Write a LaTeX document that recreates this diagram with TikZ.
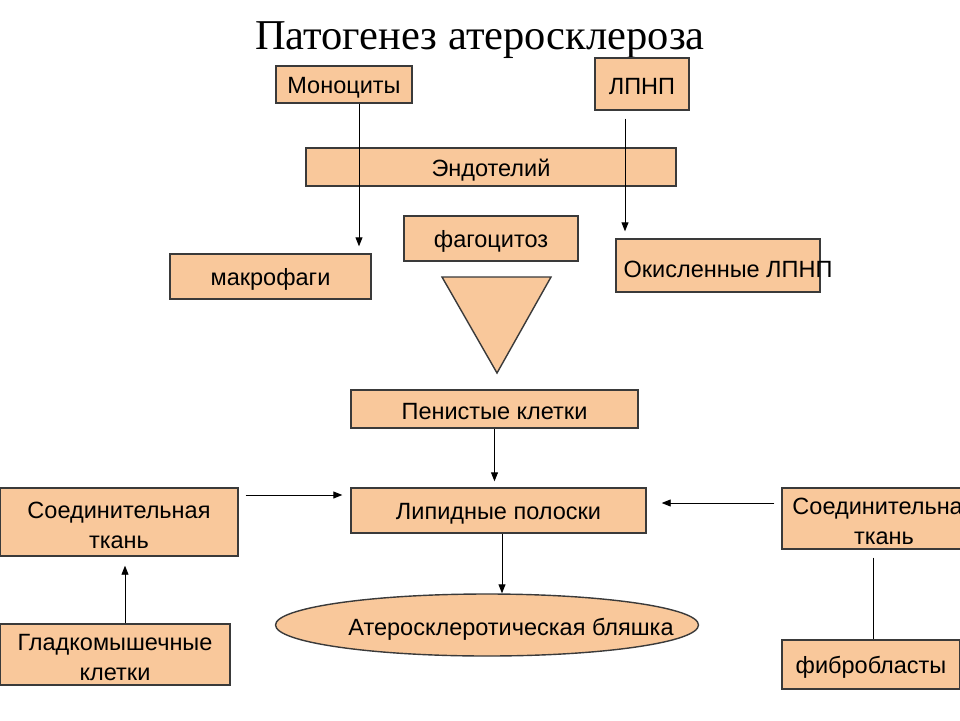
\documentclass[tikz,border=0pt]{standalone}
\usepackage{fontspec}
\setmainfont{Liberation Sans}
\newfontfamily\titlefont{Liberation Serif}
\usetikzlibrary{arrows.meta,shapes.geometric}
\definecolor{peach}{HTML}{F9C89B}
\definecolor{edgec}{HTML}{3A3A3A}
\begin{document}
\begin{tikzpicture}[x=1pt,y=-1pt,
  box/.style={draw=edgec,fill=peach,line width=1.4pt,inner sep=0pt},
  lbl/.style={inner sep=0pt,font=\fontsize{23.5}{30}\selectfont,align=center,yshift=-3pt},
  arr/.style={-{Triangle[length=9pt,width=7pt]},line width=0.9pt,black},
  conn/.style={line width=0.9pt,black}]
\clip (0,0) rectangle (960,720);
\fill[white] (0,0) rectangle (960,720);
\node[inner sep=0pt,font=\titlefont\fontsize{42.5}{46}\selectfont] (title) at (480,40) {Патогенез атеросклероза};
% boxes
\node[box,minimum width=136pt,minimum height=37pt,label={[lbl]center:Моноциты}] (mono) at (344,84.5) {};
\node[box,minimum width=94pt,minimum height=52pt,label={[lbl]center:ЛПНП}] (ldl) at (642,84) {};
\node[box,minimum width=370pt,minimum height=38pt,label={[lbl]center:Эндотелий}] (endo) at (491,167) {};
\node[box,minimum width=174pt,minimum height=45pt,label={[lbl]center:фагоцитоз}] (phago) at (491,238.5) {};
\node[box,minimum width=201pt,minimum height=45pt,label={[lbl]center:макрофаги}] (macro) at (270.5,276.5) {};
\node[box,minimum width=204pt,minimum height=53pt] (oxldl) at (718,265.5) {};
\node[lbl] (oxldlt) at (728,266) {Окисленные ЛПНП};
\draw[draw=edgec,fill=peach,line width=1.4pt] (442,277) -- (551,277) -- (497,373) -- cycle;
\node[box,minimum width=287pt,minimum height=38pt,label={[lbl]center:Пенистые клетки}] (foam) at (494.5,409) {};
\node[box,minimum width=295pt,minimum height=45pt,label={[lbl]center:Липидные полоски}] (lipid) at (498.5,510.5) {};
\node[box,minimum width=238pt,minimum height=68pt,label={[lbl]center:Соединительная\\ткань}] (ctL) at (119,522) {};
\node[box,minimum width=230pt,minimum height=61pt,label={[lbl]center:Гладкомышечные\\клетки}] (smc) at (115,654.5) {};
\node[box,ellipse,minimum width=423pt,minimum height=62pt] (plaque) at (487,625) {};
\node[lbl] (plaquet) at (511,626) {Атеросклеротическая бляшка};
\node[box,minimum width=204pt,minimum height=61pt,label={[lbl]center:Соединительная\\ткань}] (ctR) at (884,518.5) {};
\node[box,minimum width=178pt,minimum height=49pt,label={[lbl]center:фибробласты}] (fibro) at (871,664.5) {};
% connectors
\coordinate (m0) at ([xshift=15pt]mono.south);
\draw[arr,shorten >=7pt] (m0) -- (m0 |- macro.north);
\coordinate (l0) at ([xshift=-17pt]ldl.south);
\draw[arr,shorten <=8pt,shorten >=7pt] (l0) -- (l0 |- oxldl.north);
\draw[arr,shorten >=6pt] (foam.south) -- (foam.south |- lipid.north);
\coordinate (p0) at ([xshift=3.5pt]lipid.south);
\draw[arr] (p0) -- (p0 |- plaque.north);
\coordinate (c0) at ([yshift=27pt]ctL.east);
\draw[arr,shorten <=7pt,shorten >=8pt] (c0) -- (c0 -| lipid.west);
\coordinate (r0) at ([yshift=15.5pt]ctR.west);
\draw[arr,shorten <=7pt,shorten >=15pt] (r0) -- (r0 -| lipid.east);
\coordinate (s0) at ([xshift=10pt]smc.north);
\draw[arr,shorten >=9pt] (s0) -- (s0 |- ctL.south);
\coordinate (f0) at ([xshift=-11pt]ctR.south);
\draw[conn,shorten <=8pt] (f0) -- (f0 |- fibro.north);
\end{tikzpicture}
\end{document}
